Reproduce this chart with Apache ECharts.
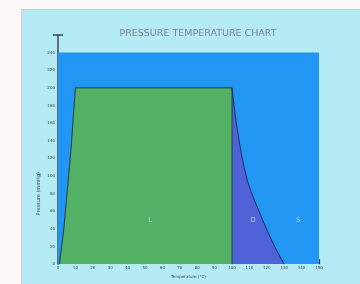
<!DOCTYPE html>
<html>
<head>
<meta charset="utf-8">
<script src="https://cdn.jsdelivr.net/npm/echarts@6/dist/echarts.min.js"></script>
<style>
  html, body { margin: 0; padding: 0; background: #fdf9fa; }
  #panel { position: absolute; left: 21px; top: 9px; width: 345px; height: 280px;
           background: #b4ebf4; border: 1px solid #dcc6cf; }
  #main { position: absolute; left: 0; top: 0; width: 360px; height: 284px; }
</style>
</head>
<body>
<div id="panel"></div>
<div id="main"></div>
<script>
// 区域边界 [温度, 压力]
const outerRegion = [[0, 240], [150, 240]];
const greenRegion = [[0.8, 0], [3.4, 41], [7.5, 131], [10, 200], [100, 200], [100, 0]];
const purpleRegion = [[100, 200], [103, 153], [108.5, 97], [115.5, 60], [124, 22], [130, 0]];
const labelNames = ['L', 'D', 'S'];
const labelPos = [[53, 50], [112, 50], [138, 50]];
const yMax = 260;
const xMax = 150;

const myChart = echarts.init(document.getElementById('main'));

const options = {
  animation: false,
  textStyle: { fontFamily: 'DejaVu Sans' },
  title: {
    text: 'PRESSURE TEMPERATURE CHART',
    left: 193,
    top: 24,
    textAlign: 'center',
    textStyle: { fontSize: 9.5, fontWeight: 'normal', color: '#7a8490' }
  },
  grid: { left: 58, right: 41, top: 35, bottom: 17 },
  xAxis: {
    type: 'value',
    min: 0,
    max: xMax,
    interval: 10,
    name: 'Temperature (°C)',
    nameLocation: 'middle',
    nameGap: 10,
    nameTextStyle: { fontSize: 4, color: '#3a4652' },
    axisLine: { show: false },
    axisTick: { show: true, inside: true, length: 5, lineStyle: { color: '#233444', width: 1.2 } },
    axisLabel: { fontSize: 4, color: '#333d48', margin: 2 },
    splitLine: { show: false }
  },
  yAxis: {
    type: 'value',
    min: 0,
    max: yMax,
    interval: 20,
    axisLine: {
      show: true,
      lineStyle: { color: '#3a4856', width: 1.5 },
      symbol: ['none', 'rect'],
      symbolSize: [10, 1.5]
    },
    axisTick: { show: false },
    axisLabel: {
      fontSize: 4, color: '#333d48', margin: 3,
      formatter: v => (v === yMax ? '' : v)
    },
    splitLine: { show: false }
  },
  graphic: [{
    type: 'text',
    left: 36,
    top: 172,
    rotation: Math.PI / 2,
    style: { text: 'Pressure (mmHg)', fill: '#3a4652', font: '5px DejaVu Sans' }
  }],
  series: [
    {
      type: 'line',
      data: outerRegion,
      symbol: 'none',
      lineStyle: { width: 0 },
      areaStyle: { color: '#2196f3', opacity: 1 }
    },
    {
      type: 'line',
      data: greenRegion,
      symbol: 'none',
      lineStyle: { color: '#1d3b4a', width: 1 },
      areaStyle: { color: '#52b164', opacity: 1 }
    },
    {
      type: 'line',
      data: purpleRegion,
      symbol: 'none',
      smooth: 0.3,
      lineStyle: { color: '#1d2d5a', width: 1 },
      areaStyle: { color: '#5062d8', opacity: 1 }
    },
    {
      type: 'scatter',
      z: 10,
      data: labelPos.map((p, i) => ({ name: labelNames[i], value: p })),
      symbol: 'circle',
      symbolSize: 2,
      itemStyle: { color: 'rgba(0,0,0,0)' },
      label: {
        show: true,
        position: 'inside',
        formatter: '{b}',
        fontSize: 7,
        color: '#d8e4fa'
      }
    }
  ]
};

myChart.setOption(options);
</script>
</body>
</html>
